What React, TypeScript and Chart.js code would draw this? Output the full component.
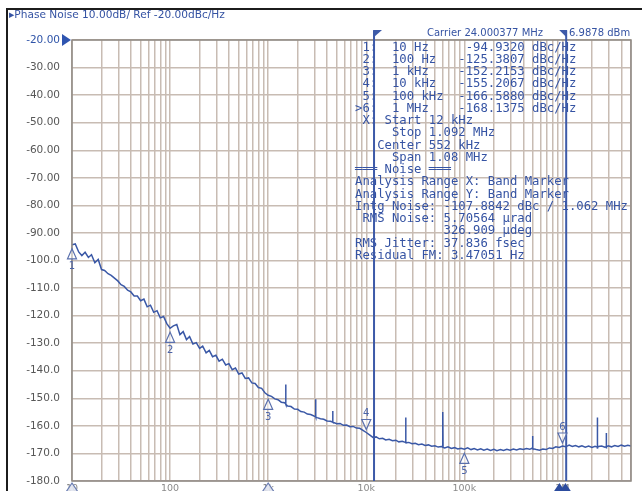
import React, { useEffect, useRef } from "react";
import { Chart, registerables } from "chart.js";

Chart.register(...registerables);

// ---- data ----
const FREQ_HZ: number[] = [
  10, 10.8, 11.7, 12.6, 13.6, 14.7, 15.8, 17.1, 18.5, 20.0, 21.5, 23.3, 25.1, 27.1, 29.3,
  31.6, 34.1, 36.9, 39.8, 43.0, 46.4, 50.1, 54.1, 58.4, 63.1, 68.1, 73.6, 79.4, 85.8, 92.6,
  100, 108, 117, 126, 136, 147, 158, 171, 185, 200, 215, 233, 251, 271, 293,
  316, 341, 369, 398, 430, 464, 501, 541, 584, 631, 681, 736, 794, 858, 926,
  1000, 1080, 1170, 1260, 1360, 1470, 1505, 1510, 1515, 1580, 1710, 1850, 2000, 2150, 2330,
  2510, 2710, 2930, 3040, 3050, 3060, 3160, 3410, 3690, 3980, 4300, 4530, 4550, 4570, 4640,
  5010, 5410, 5840, 6310, 6810, 7360, 7940, 8580, 9260,
  10000, 10800, 11700, 12600, 13600, 14700, 15800, 17100, 18500, 20000, 21500, 23300,
  25000, 25200, 25400, 27100, 29300, 31600, 34100, 36900, 39800, 43000, 46400, 50100,
  54100, 58400, 59800, 60200, 60600, 63100, 68100, 73600, 79400, 85800, 92600,
  100000, 108000, 117000, 126000, 136000, 147000, 158000, 171000, 185000, 200000, 215000,
  233000, 251000, 271000, 293000, 316000, 341000, 369000, 398000, 430000, 464000,
  490000, 495000, 500000, 541000, 584000, 631000, 681000, 736000, 794000, 858000, 926000,
  1000000, 1080000, 1170000, 1260000, 1360000, 1470000, 1580000, 1710000, 1850000, 2000000,
  2150000, 2260000, 2270000, 2280000, 2330000, 2510000, 2710000, 2790000, 2800000, 2810000,
  2930000, 3160000, 3410000, 3690000, 3980000, 4300000, 4640000, 5000000,
];

const NOISE_DBC: number[] = [
  -94.3, -94.0, -96.9, -98.2, -97.0, -98.9, -97.9, -100.8, -99.6, -103.3, -103.6, -104.8, -105.4, -106.4, -107.4,
  -108.8, -109.4, -110.8, -111.4, -112.9, -112.9, -114.6, -114.0, -116.8, -116.2, -118.8, -118.2, -120.8, -120.3, -122.9,
  -124.6, -123.7, -123.2, -126.9, -125.8, -128.7, -127.6, -130.3, -129.8, -131.9, -131.1, -133.5, -132.6, -134.9, -134.4,
  -136.5, -135.8, -137.9, -137.4, -139.6, -139.0, -141.2, -140.8, -142.8, -142.6, -144.4, -144.6, -146.1, -146.4, -148.0,
  -148.9, -149.3, -150.2, -150.5, -151.4, -151.6, -152.0, -145.0, -152.2, -152.8, -153.0, -153.9, -154.0, -154.8, -155.0,
  -155.7, -155.9, -156.4, -156.6, -150.3, -156.8, -157.0, -157.4, -157.6, -158.2, -158.3, -158.6, -154.6, -158.7, -158.8,
  -159.2, -159.1, -159.8, -159.7, -160.3, -160.2, -160.8, -160.9, -161.6,
  -162.4, -163.3, -164.2, -164.0, -164.7, -164.5, -165.1, -164.9, -165.4, -165.2, -165.8, -165.6,
  -166.0, -157.0, -166.1, -166.0, -166.5, -166.3, -166.8, -166.6, -167.1, -166.9, -167.4, -167.2,
  -167.7, -167.5, -167.6, -155.0, -167.8, -168.0, -167.6, -168.2, -167.9, -168.4, -168.1,
  -168.5, -168.0, -168.6, -168.2, -168.7, -168.3, -168.8, -168.4, -168.9, -168.5, -169.0,
  -168.6, -168.9, -168.5, -168.8, -168.4, -168.7, -168.3, -168.6, -168.2, -168.5,
  -168.1, -163.7, -168.3, -168.6, -168.8, -168.4, -168.6, -168.0, -168.2, -167.6, -167.8,
  -167.3, -167.6, -167.0, -167.5, -167.1, -167.6, -167.2, -167.7, -167.3, -167.8,
  -167.4, -167.7, -157.0, -167.8, -167.5, -167.3, -167.7, -167.6, -162.6, -167.7,
  -167.2, -167.6, -167.1, -167.5, -167.0, -167.4, -167.0, -167.3,
];

const X_MIN_HZ = 10;
const X_MAX_HZ = 5000000;
const Y_MIN = -180;
const Y_MAX = -20;
const Y_STEP = 10;
const REF_LEVEL = -20;

const GRID_MANTISSAS = [1, 2, 3, 4, 5, 6, 7, 8, 9];
const GRID_DECADES = [10, 100, 1000, 10000, 100000, 1000000];

const DECADE_VALUES = [10, 100, 1000, 10000, 100000, 1000000];
const DECADE_LABELS = ["10", "100", "1k", "10k", "100k", "1M"];

const MARKER_FREQS = [10, 100, 1000, 10000, 100000, 1000000];
const MARKER_NAMES = ["1", "2", "3", "4", "5", "6"];
const MARKER_ABOVE = [false, false, false, true, false, true];

const AXIS_MARKER_FREQS = [10, 1000, 1000000];
const AXIS_MARKER_FILLED = [false, false, true];

const BAND_START_HZ = 12000;
const BAND_STOP_HZ = 1092000;

const MARKER_ROWS = [
  [" 1:", "10 Hz", "-94.9320"],
  [" 2:", "100 Hz", "-125.3807"],
  [" 3:", "1 kHz", "-152.2153"],
  [" 4:", "10 kHz", "-155.2067"],
  [" 5:", "100 kHz", "-166.5880"],
  [">6:", "1 MHz", "-168.1375"],
];
const INFO_LINES = [
  " X: Start 12 kHz",
  "     Stop 1.092 MHz",
  "   Center 552 kHz",
  "     Span 1.08 MHz",
  "═══ Noise ═══",
  "Analysis Range X: Band Marker",
  "Analysis Range Y: Band Marker",
  "Intg Noise: -107.8842 dBc / 1.062 MHz",
  " RMS Noise: 5.70564 µrad",
  "            326.909 µdeg",
  "RMS Jitter: 37.836 fsec",
  "Residual FM: 3.47051 Hz",
];

const TITLE_TEXT = "▸Phase Noise 10.00dB/ Ref -20.00dBc/Hz";
const CARRIER_TEXT = "Carrier 24.000377 MHz";
const POWER_TEXT = "6.9878 dBm";

const BLUE = "#3553a3";
const TRACE_BLUE = "#3a58a6";
const GRID = "#c8bcb3";

function tri(ctx: CanvasRenderingContext2D, pts: number[][]) {
  ctx.beginPath();
  ctx.moveTo(pts[0][0], pts[0][1]);
  for (let i = 1; i < pts.length; i++) ctx.lineTo(pts[i][0], pts[i][1]);
  ctx.closePath();
}

const overlay = {
  id: "overlay",
  beforeDraw(chart: any) {
    const { ctx, width, height } = chart;
    ctx.save();
    ctx.fillStyle = "#ffffff";
    ctx.fillRect(0, 0, width, height);
    ctx.restore();
  },
  afterDraw(chart: any) {
    const { ctx, width, height, chartArea: a } = chart;
    const xs = chart.scales.x;
    const ys = chart.scales.y;
    ctx.save();

    // outer instrument frame
    ctx.strokeStyle = "#1c1c1c";
    ctx.lineWidth = 2;
    ctx.beginPath();
    ctx.moveTo(7, height);
    ctx.lineTo(7, 9);
    ctx.lineTo(width, 9);
    ctx.stroke();

    // plot frame
    ctx.strokeStyle = "#8f8984";
    ctx.lineWidth = 1.5;
    ctx.strokeRect(a.left, a.top, a.right - a.left, a.bottom - a.top);

    // header texts
    ctx.fillStyle = BLUE;
    ctx.textBaseline = "middle";
    ctx.textAlign = "left";
    ctx.font = "10.6px 'DejaVu Sans'";
    ctx.fillText(TITLE_TEXT, 9, 15);
    ctx.font = "10px 'DejaVu Sans'";
    ctx.fillText(CARRIER_TEXT, 427, 33);
    ctx.fillText(POWER_TEXT, 569, 33);

    // reference level arrow
    const ry = ys.getPixelForValue(REF_LEVEL);
    ctx.fillStyle = "#2f55b0";
    tri(ctx, [[a.left - 10, ry - 6], [a.left - 1, ry], [a.left - 10, ry + 6]]);
    ctx.fill();

    // marker readout text
    ctx.fillStyle = BLUE;
    ctx.font = "12.25px 'DejaVu Sans Mono'";
    const lines: string[] = [];
    MARKER_ROWS.forEach((r) => {
      lines.push(r[0] + "  " + r[1].padEnd(9) + r[2].padStart(9) + " dBc/Hz");
    });
    INFO_LINES.forEach((l) => lines.push(l));
    lines.forEach((l, i) => ctx.fillText(l, 355, 47.5 + i * 12.24));

    // band marker lines
    ctx.strokeStyle = "#3d5aa8";
    ctx.fillStyle = "#3d5aa8";
    ctx.lineWidth = 2;
    const bx1 = xs.getPixelForValue(BAND_START_HZ);
    const bx2 = xs.getPixelForValue(BAND_STOP_HZ);
    ctx.beginPath();
    ctx.moveTo(bx1, 31);
    ctx.lineTo(bx1, a.bottom);
    ctx.moveTo(bx2, 31);
    ctx.lineTo(bx2, a.bottom);
    ctx.stroke();
    tri(ctx, [[bx1 - 1, 30], [bx1 + 8, 30], [bx1, 37]]);
    ctx.fill();
    tri(ctx, [[bx2 - 7, 30], [bx2 + 1, 30], [bx2, 37]]);
    ctx.fill();

    // trace markers
    ctx.font = "10px 'DejaVu Sans'";
    ctx.textAlign = "center";
    MARKER_FREQS.forEach((f, i) => {
      const j = FREQ_HZ.indexOf(f);
      const v = NOISE_DBC[j];
      const px = xs.getPixelForValue(f);
      const py = ys.getPixelForValue(v);
      ctx.strokeStyle = "#5a70ad";
      ctx.lineWidth = 1.2;
      ctx.fillStyle = "rgba(255,255,255,0.5)";
      if (MARKER_ABOVE[i]) {
        tri(ctx, [[px, py - 3], [px - 4.5, py - 13], [px + 4.5, py - 13]]);
        ctx.fill();
        ctx.stroke();
        ctx.fillStyle = "#4a63a8";
        ctx.fillText(MARKER_NAMES[i], px, py - 19);
      } else {
        tri(ctx, [[px, py + 4], [px - 4.5, py + 14], [px + 4.5, py + 14]]);
        ctx.fill();
        ctx.stroke();
        ctx.fillStyle = "#4a63a8";
        ctx.fillText(MARKER_NAMES[i], px, py + 22);
      }
    });

    // x decade labels (mostly cut by the bottom edge)
    ctx.fillStyle = "#8a8a8a";
    ctx.font = "9.5px 'DejaVu Sans'";
    DECADE_VALUES.forEach((v, i) => {
      ctx.fillText(DECADE_LABELS[i], xs.getPixelForValue(v), a.bottom + 8);
    });

    // axis markers at the bottom
    AXIS_MARKER_FREQS.forEach((f, i) => {
      const px = xs.getPixelForValue(f);
      const top = a.bottom + 2;
      if (AXIS_MARKER_FILLED[i]) {
        ctx.fillStyle = "#2c4c9e";
        tri(ctx, [[px - 3, top], [px - 9, top + 9], [px + 3, top + 9]]);
        ctx.fill();
        tri(ctx, [[px + 3, top], [px - 3, top + 9], [px + 9, top + 9]]);
        ctx.fill();
      } else {
        ctx.fillStyle = "rgba(225,228,240,0.9)";
        ctx.strokeStyle = "#6a7db2";
        ctx.lineWidth = 1.2;
        tri(ctx, [[px, top], [px - 6, top + 9], [px + 6, top + 9]]);
        ctx.fill();
        ctx.stroke();
      }
    });

    ctx.restore();
  },
};

export default function App() {
  const ref = useRef<HTMLCanvasElement | null>(null);

  useEffect(() => {
    const canvas = ref.current;
    if (!canvas) return;
    const gridTicks: number[] = [];
    GRID_DECADES.forEach((d) => GRID_MANTISSAS.forEach((m) => {
      const v = d * m;
      if (v <= X_MAX_HZ) gridTicks.push(v);
    }));

    const chart = new Chart(canvas, {
      type: "line",
      data: {
        datasets: [
          {
            data: FREQ_HZ.map((f, i) => ({ x: f, y: NOISE_DBC[i] })),
            borderColor: TRACE_BLUE,
            borderWidth: 1.5,
            pointRadius: 0,
            tension: 0,
            fill: false,
          },
        ],
      },
      options: {
        animation: false,
        responsive: false,
        devicePixelRatio: 1,
        events: [],
        layout: { padding: { left: 0, top: 40, right: 11, bottom: 10 } },
        plugins: { legend: { display: false }, tooltip: { enabled: false } },
        scales: {
          x: {
            type: "logarithmic",
            min: X_MIN_HZ,
            max: X_MAX_HZ,
            afterBuildTicks: (s: any) => {
              s.ticks = gridTicks.map((v) => ({ value: v }));
            },
            afterFit: (s: any) => {
              s.height = 0;
              s.paddingLeft = 0;
              s.paddingRight = 0;
            },
            ticks: { display: false },
            grid: { color: GRID, lineWidth: 1.5, drawTicks: false },
            border: { display: false },
          },
          y: {
            type: "linear",
            min: Y_MIN,
            max: Y_MAX,
            afterFit: (s: any) => {
              s.width = 72;
              s.paddingTop = 0;
              s.paddingBottom = 0;
            },
            ticks: {
              stepSize: Y_STEP,
              padding: 12,
              font: { family: "DejaVu Sans", size: 10.5 },
              color: (c: any) => (c.tick && c.tick.value === REF_LEVEL ? "#2f54a8" : "#575757"),
              callback: (v: any) => (v > -100 ? Number(v).toFixed(2) : Number(v).toFixed(1)),
            },
            grid: { color: GRID, lineWidth: 1.5, drawTicks: false },
            border: { display: false },
          },
        },
      },
      plugins: [overlay],
    } as any);

    return () => chart.destroy();
  }, []);

  return (
    <div style={{ position: "fixed", left: 0, top: 0, width: 642, height: 491, background: "#fff" }}>
      <canvas ref={ref} width={642} height={491} style={{ display: "block" }} />
    </div>
  );
}
